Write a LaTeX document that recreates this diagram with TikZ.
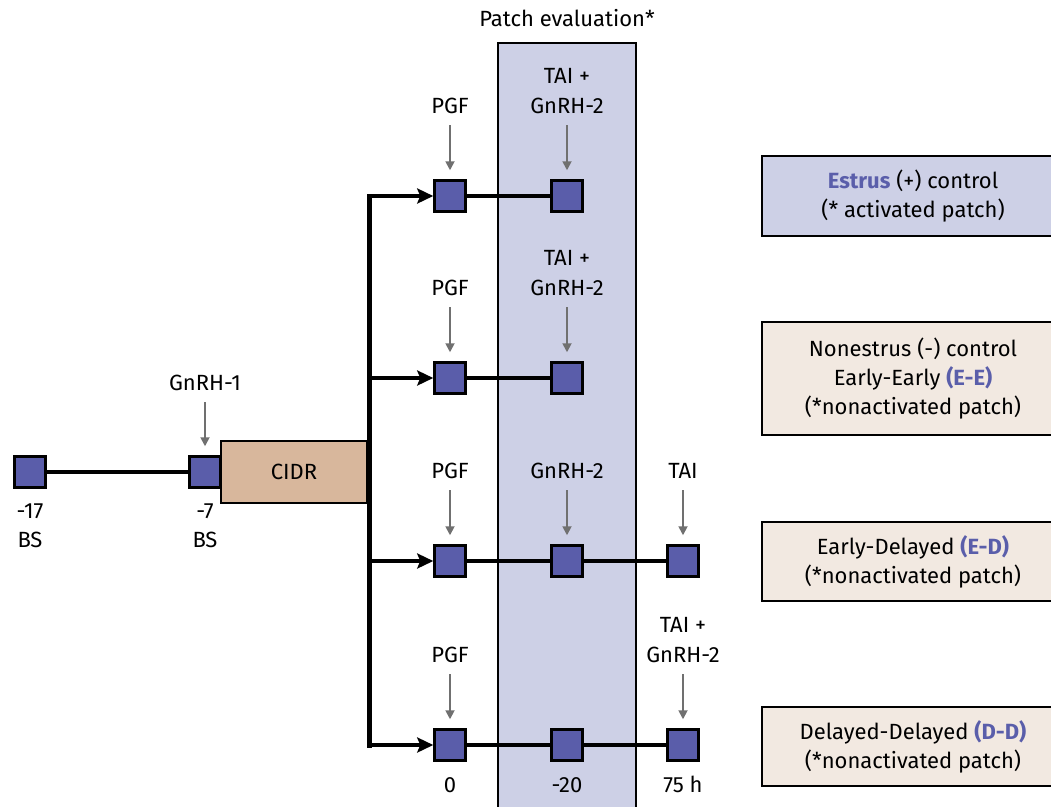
\documentclass[tikz,border=0pt]{standalone}
\usepackage{fontspec}
\setmainfont{Fira Sans}
\usetikzlibrary{arrows.meta}
\definecolor{lav}{HTML}{CDD0E6}
\definecolor{sqblue}{HTML}{5A5DAA}
\definecolor{tan}{HTML}{D8B79C}
\definecolor{beige}{HTML}{F2E9E1}
\definecolor{txtblue}{HTML}{5A5EAA}
\definecolor{grayarr}{HTML}{707070}
\tikzset{
  sq/.style={draw=black, fill=sqblue, line width=2.5pt, minimum size=31pt, inner sep=0pt},
  lab/.style={anchor=base, inner sep=0pt, font=\fontsize{22}{29}\selectfont},
  garrow/.style={draw=grayarr, line width=1.8pt, -{Triangle[length=9pt,width=9pt]}, shorten <=12pt, shorten >=9pt},
  link/.style={draw=black, line width=4.5pt},
  barrow/.style={draw=black, line width=4.5pt, -{Stealth[length=16pt,width=15pt,inset=3pt]}},
  trunk/.style={draw=black, line width=5pt, line cap=rect},
  rbox/.style={draw=black, line width=2.5pt, minimum width=302pt, align=center, font=\fontsize{22}{29}\selectfont, inner sep=0pt},
  colbox/.style={draw=black, fill=lav, line width=2pt, minimum width=138pt, minimum height=790pt, inner sep=0pt}
}
\newcommand{\hl}[1]{{\bfseries\color{txtblue}#1}}
\begin{document}
\begin{tikzpicture}[x=1pt,y=-1pt]
\useasboundingbox (0,0) rectangle (1051,806);
\clip (0,0) rectangle (1051,806);
\fill[white] (0,0) rectangle (1051,806);
% patch evaluation column
\node[colbox] (patch) at (567,438) {};
\node[lab] (pe) at (567,26) {Patch evaluation*};
% right boxes
\node[rbox, fill=lav, minimum height=80pt] (r1) at (913,196) {\hl{Estrus} (+) control\\(* activated patch)};
\node[rbox, fill=beige, minimum height=113pt] (r2) at (913,378.5) {Nonestrus (-) control\\Early-Early \hl{(E-E)}\\(*nonactivated patch)};
\node[rbox, fill=beige, minimum height=79pt] (r3) at (913,561.5) {Early-Delayed \hl{(E-D)}\\(*nonactivated patch)};
\node[rbox, fill=beige, minimum height=79pt] (r4) at (913,746.5) {Delayed-Delayed \hl{(D-D)}\\(*nonactivated patch)};
% left part
\node[draw=black, fill=tan, line width=2.5pt, minimum width=146pt, minimum height=62pt, inner sep=0pt, font=\fontsize{22}{29}\selectfont] (cidr) at (294,472) {CIDR};
\node[sq] (a1) at (30,472) {};
\node[sq] (a2) at (205,472) {};
\draw[link] (a1) -- (a2);
\node[lab] (g1) at (205,390) {GnRH-1};
\draw[garrow] (g1.south) -- (a2.north);
\node[lab] (d17) at (30,518) {-17};
\node[lab] (bs1) at (30,547) {BS};
\node[lab] (d7) at (205,518) {-7};
\node[lab] (bs2) at (205,547) {BS};
% squares
\node[sq] (s11) at (450,196) {};
\node[sq] (s12) at (567,196) {};
\node[sq] (s21) at (450,378) {};
\node[sq] (s22) at (567,378) {};
\node[sq] (s31) at (450,561) {};
\node[sq] (s32) at (567,561) {};
\node[sq] (s33) at (683,561) {};
\node[sq] (s41) at (450,745) {};
\node[sq] (s42) at (567,745) {};
\node[sq] (s43) at (683,745) {};
\draw[link] (s11) -- (s12);
\draw[link] (s21) -- (s22);
\draw[link] (s31) -- (s32);
\draw[link] (s32) -- (s33);
\draw[link] (s41) -- (s42);
\draw[link] (s42) -- (s43);
% trunk and branches
\coordinate (t1) at (369,196);
\coordinate (t2) at (369,378);
\coordinate (t3) at (369,561);
\coordinate (t4) at (369,745);
\draw[trunk] (t1) -- (t4);
\draw[barrow] (t1) -- (s11.west);
\draw[barrow] (t2) -- (s21.west);
\draw[barrow] (t3) -- (s31.west);
\draw[barrow] (t4) -- (s41.west);
% row 1 labels
\node[lab] (p1) at (450,113) {PGF};
\node[lab] (ta1) at (567,83) {TAI +};
\node[lab] (gn1) at (567,113) {GnRH-2};
\draw[garrow] (p1.south) -- (s11.north);
\draw[garrow] (gn1.south) -- (s12.north);
% row 2 labels
\node[lab] (p2) at (450,295) {PGF};
\node[lab] (ta2) at (567,265) {TAI +};
\node[lab] (gn2) at (567,295) {GnRH-2};
\draw[garrow] (p2.south) -- (s21.north);
\draw[garrow] (gn2.south) -- (s22.north);
% row 3 labels
\node[lab] (p3) at (450,478) {PGF};
\node[lab] (gn3) at (567,478) {GnRH-2};
\node[lab] (ta3) at (683,478) {TAI};
\draw[garrow] (p3.south) -- (s31.north);
\draw[garrow] (gn3.south) -- (s32.north);
\draw[garrow] (ta3.south) -- (s33.north);
% row 4 labels
\node[lab] (p4) at (450,662) {PGF};
\node[lab] (ta4) at (683,632) {TAI +};
\node[lab] (gn4) at (683,662) {GnRH-2};
\draw[garrow] (p4.south) -- (s41.north);
\draw[garrow] (gn4.south) -- (s43.north);
% bottom labels
\node[lab] (h0) at (450,792) {0};
\node[lab] (h20) at (567,792) {-20};
\node[lab] (h75) at (683,792) {75 h};
\end{tikzpicture}
\end{document}
